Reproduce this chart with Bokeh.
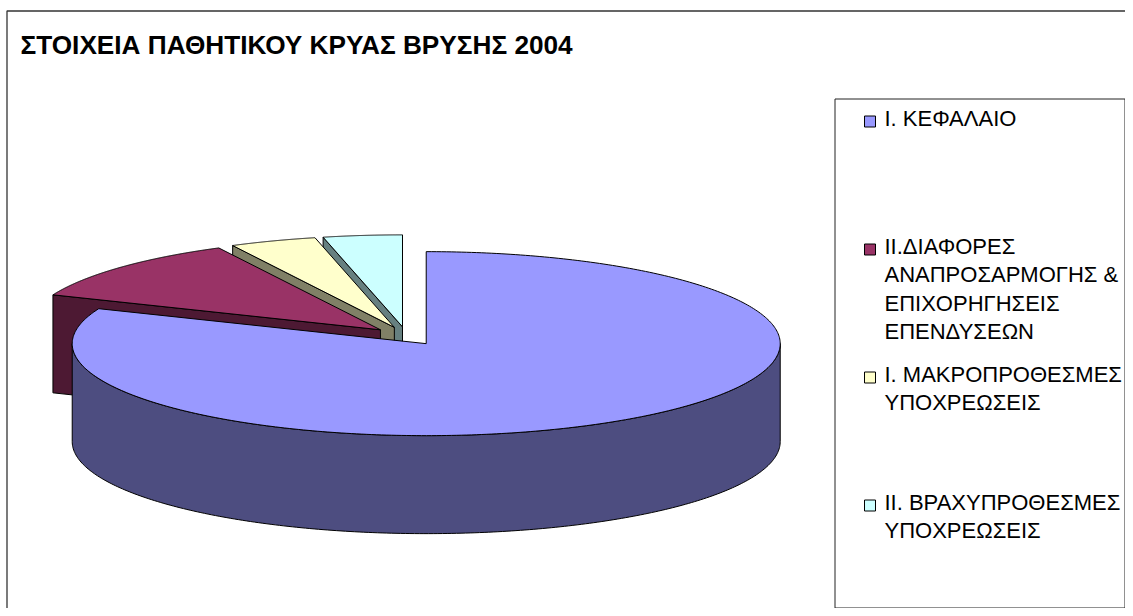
import numpy as np
from bokeh.plotting import figure
from bokeh.models import Range1d
from bokeh.core.properties import value
from bokeh.embed import file_html
from bokeh.resources import INLINE

TITLE = "ΣΤΟΙΧΕΙΑ ΠΑΘΗΤΙΚΟΥ ΚΡΥΑΣ ΒΡΥΣΗΣ 2004"
LABELS = [
    ["Ι. ΚΕΦΑΛΑΙΟ"],
    ["ΙΙ.ΔΙΑΦΟΡΕΣ", "ΑΝΑΠΡΟΣΑΡΜΟΓΗΣ &", "ΕΠΙΧΟΡΗΓΗΣΕΙΣ", "ΕΠΕΝΔΥΣΕΩΝ"],
    ["Ι. ΜΑΚΡΟΠΡΟΘΕΣΜΕΣ", "ΥΠΟΧΡΕΩΣΕΙΣ"],
    ["ΙΙ. ΒΡΑΧΥΠΡΟΘΕΣΜΕΣ", "ΥΠΟΧΡΕΩΣΕΙΣ"],
]
VALUES = [81.2, 11.25, 3.95, 3.6]
TOP_COLORS = ["#9999FF", "#993366", "#FFFFCC", "#CCFFFF"]
WALL_COLORS = ["#4D4D80", "#4D1933", "#808066", "#668080"]

p = figure(width=1125, height=608, output_backend="svg", toolbar_location=None,
           x_range=Range1d(0, 1125), y_range=Range1d(608, 0),
           min_border=0, outline_line_color=None)
p.xaxis.visible = False
p.yaxis.visible = False
p.grid.visible = False

FONT = value("Liberation Sans")

# Chart frame
p.line([6.5, 6.5, 1125], [608, 10.5, 10.5], line_color="#333333", line_width=1.3)

# 3D pie geometry
CX, CY, RX, RY, DEPTH, EXPLODE = 406, 335.5, 354, 92, 98, 0.1
ends = np.cumsum(VALUES) / np.sum(VALUES) * 2 * np.pi
starts = np.r_[0, ends[:-1]]


def apex(i):
    mid = (starts[i] + ends[i]) / 2
    return CX + EXPLODE * RX * np.sin(mid), CY - EXPLODE * RY * np.cos(mid)


def rim(ax, ay, angles):
    return ax + RX * np.sin(angles), ay - RY * np.cos(angles)


def draw(xs, ys, color):
    p.patch(list(xs), list(ys), fill_color=color, line_color="black",
            line_width=1, line_join="miter")


for i in [3, 2, 1, 0]:
    ax, ay = apex(i)
    if i == 0:
        th = np.linspace(np.pi / 2, 3 * np.pi / 2, 240)
        x, y = rim(ax, ay, th)
        draw(np.r_[x, x[::-1]], np.r_[y, y[::-1] + DEPTH], WALL_COLORS[i])
    else:
        ex, ey = rim(ax, ay, starts[i])
        draw([ax, ex, ex, ax], [ay, ey, ey + DEPTH, ay + DEPTH], WALL_COLORS[i])
    th = np.linspace(starts[i], ends[i], 360)
    x, y = rim(ax, ay, th)
    draw(np.r_[ax, x], np.r_[ay, y], TOP_COLORS[i])

# Title
p.text([20], [44.5], text=[TITLE], text_font=FONT, text_font_size="26.2px",
       text_font_style="bold", text_color="black",
       text_align="left", text_baseline="middle")

# Legend
p.quad(left=[834.5], right=[1124.5], top=[98.5], bottom=[607.5],
       fill_color="white", line_color="#222222", line_width=1)
for k, lines in enumerate(LABELS):
    y0 = 117.5 + 128 * k
    p.scatter([869.5], [y0 + 3.5], marker="square", size=11,
              fill_color=TOP_COLORS[k], line_color="black", line_width=1)
    p.text([884] * len(lines), [y0 + 28.5 * j for j in range(len(lines))], text=lines,
           text_font=FONT, text_font_size="22px", text_color="black",
           text_align="left", text_baseline="middle")

open("out.html", "w").write(file_html(p, INLINE))
